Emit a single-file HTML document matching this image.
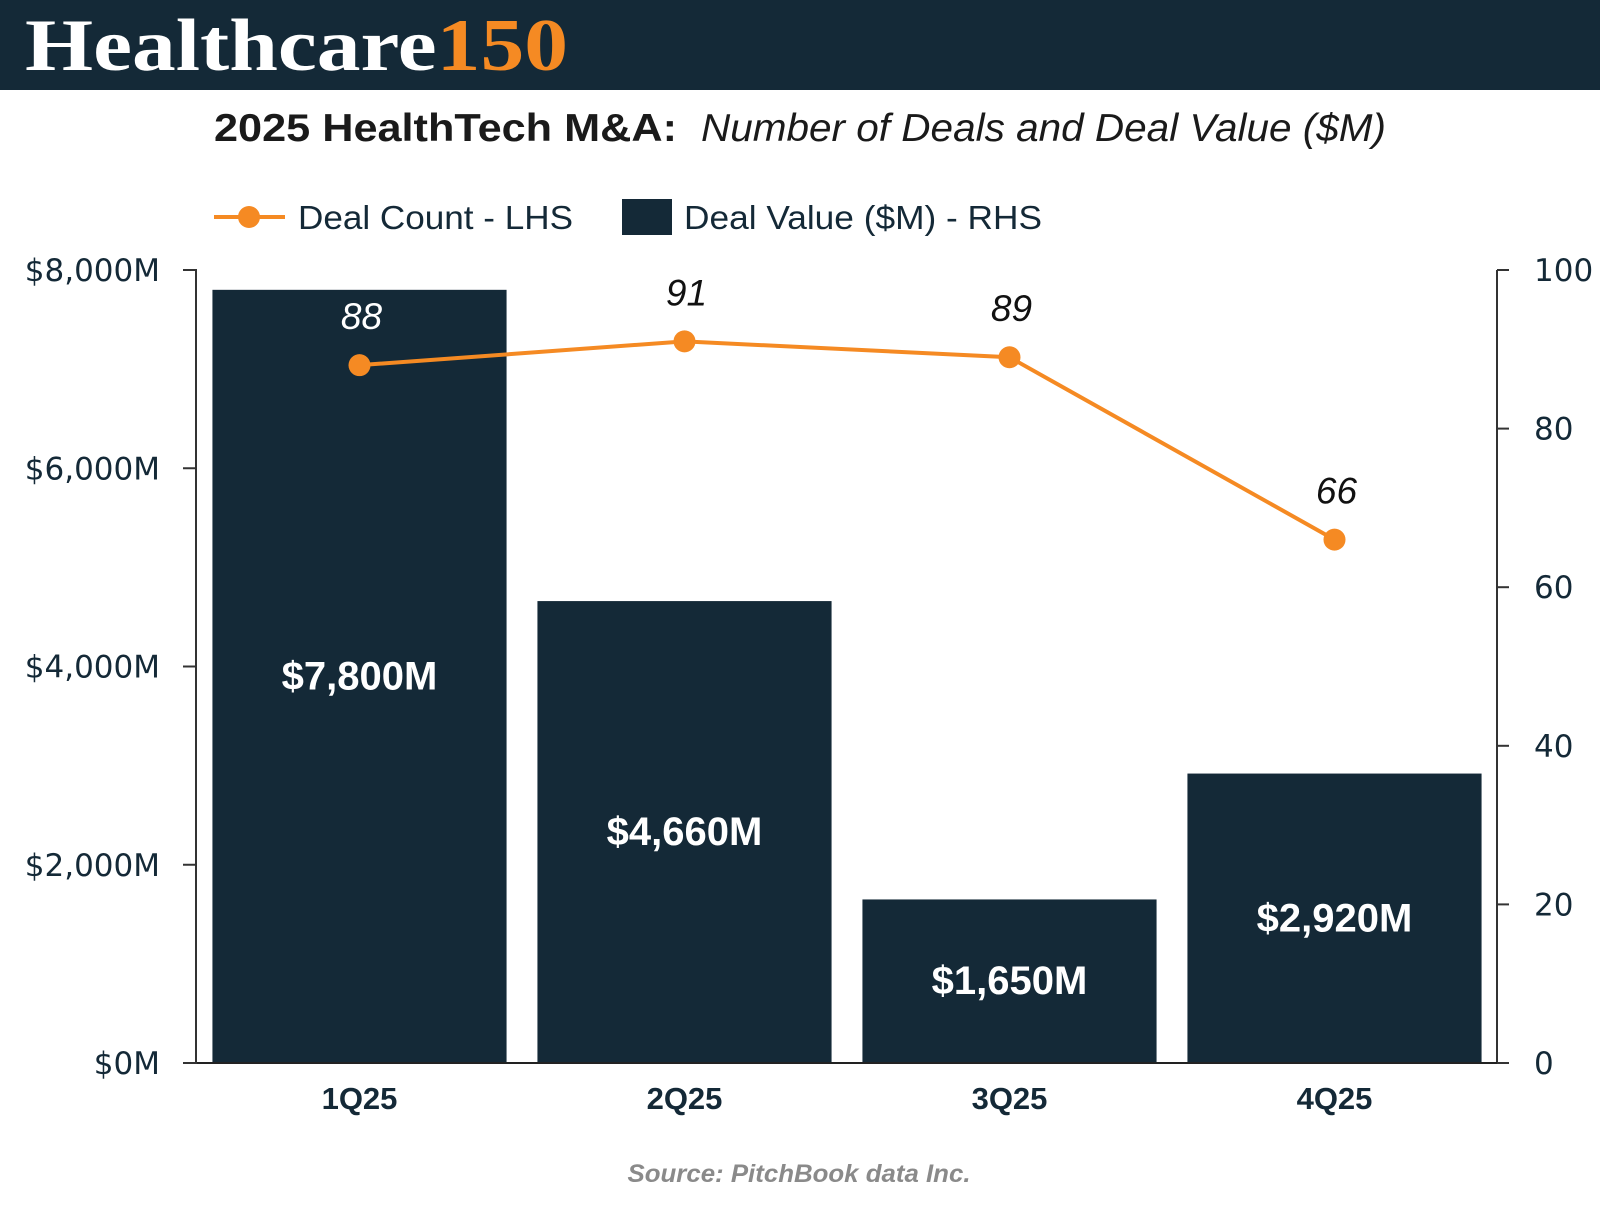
<!DOCTYPE html>
<html><head><meta charset="utf-8"><style>
body{margin:0;width:1600px;height:1200px;background:#fff;overflow:hidden;font-family:"Liberation Sans",sans-serif}
</style></head><body>
<svg width="1600" height="1200" xmlns="http://www.w3.org/2000/svg">
<rect x="0" y="0" width="1600" height="90" fill="#142937"/>
<text x="25" y="70" font-family="Liberation Serif,serif" font-weight="bold" font-size="74" fill="#fff" textLength="543" lengthAdjust="spacingAndGlyphs">Healthcare<tspan fill="#f58a23">150</tspan></text>
<text x="214" y="141" font-size="39" font-weight="bold" fill="#1a1a1a" textLength="463" lengthAdjust="spacingAndGlyphs">2025 HealthTech M&amp;A:</text>
<text x="701" y="141" font-size="39" font-style="italic" fill="#1a1a1a" textLength="685" lengthAdjust="spacingAndGlyphs">Number of Deals and Deal Value ($M)</text>
<g>
<line x1="214" y1="217" x2="285" y2="217" stroke="#f58a23" stroke-width="4"/><circle cx="249" cy="217" r="11" fill="#f58a23"/>
<text x="298" y="229" font-size="33" fill="#142937" textLength="275" lengthAdjust="spacingAndGlyphs">Deal Count - LHS</text>
<rect x="622" y="199" width="50" height="36" fill="#142937"/>
<text x="684" y="229" font-size="33" fill="#142937" textLength="358" lengthAdjust="spacingAndGlyphs">Deal Value ($M) - RHS</text>
</g>
<g id="plot"></g>
<text x="799" y="1182" text-anchor="middle" font-size="25" font-weight="bold" font-style="italic" fill="#8a8a8a" textLength="343" lengthAdjust="spacingAndGlyphs">Source: PitchBook data Inc.</text>
</svg>
<script>
const categories=["1Q25","2Q25","3Q25","4Q25"];
const dealValues=[7800,4660,1650,2920];
const dealCounts=[88,91,89,66];
const leftTicks=[0,2000,4000,6000,8000];
const rightTicks=[0,20,40,60,80,100];
const X0=197,X1=1497,Y0=1063,Y1=270;
const band=(X1-X0)/categories.length;
const yV=v=>Y0-v/8000*(Y0-Y1);
const yC=v=>Y0-v/100*(Y0-Y1);
const xC=i=>X0+band*(i+0.5);
const g=document.getElementById('plot');
const NS="http://www.w3.org/2000/svg";
function mk(t,a,txt){const e=document.createElementNS(NS,t);for(const k in a)e.setAttribute(k,a[k]);if(txt!=null)e.textContent=txt;g.appendChild(e);return e;}
dealValues.forEach((v,i)=>{
 const bw=band*0.905;
 const b=mk('rect',{x:xC(i)-bw/2,y:yV(v),width:bw,height:Y0-yV(v),fill:'#142937'});
 
 
 const t=mk('text',{x:xC(i),y:(yV(v)+Y0)/2+13,'text-anchor':'middle','font-size':40,'font-weight':'bold',fill:'#fff'},'$'+v.toLocaleString('en-US')+'M');
 
 
});
const ax1=mk('line',{x1:X0-1,y1:Y1,x2:X0-1,y2:Y0,stroke:'#333','stroke-width':2});


const ax2=mk('line',{x1:X1,y1:Y1,x2:X1,y2:Y0,stroke:'#333','stroke-width':2});


const base=mk('line',{x1:X0-14,y1:Y0,x2:X1+12,y2:Y0,stroke:'#222','stroke-width':2});


leftTicks.forEach(v=>{
 mk('line',{x1:X0-14,y1:yV(v),x2:X0,y2:yV(v),stroke:'#333','stroke-width':2});
 const t=mk('text',{x:160,y:yV(v)+11,'text-anchor':'end','font-size':31,'font-family':'DejaVu Sans, sans-serif',fill:'#142937'},'$'+v.toLocaleString('en-US')+'M');
 
 
});
rightTicks.forEach(v=>{
 mk('line',{x1:X1,y1:yC(v),x2:X1+12,y2:yC(v),stroke:'#333','stroke-width':2});
 const t=mk('text',{x:1534,y:yC(v)+11,'font-size':31,'font-family':'DejaVu Sans, sans-serif',fill:'#142937'},String(v));
 
 
});
categories.forEach((c,i)=>{
 const t=mk('text',{x:xC(i),y:1109,'text-anchor':'middle','font-size':31,'font-weight':'bold',fill:'#142937'},c);
 
 
});
const pl=mk('polyline',{points:dealCounts.map((v,i)=>xC(i)+','+yC(v)).join(' '),fill:'none',stroke:'#f58a23','stroke-width':4});


dealCounts.forEach((v,i)=>{
 const c=mk('circle',{cx:xC(i),cy:yC(v),r:11,fill:'#f58a23'});
 
 
 const inside=yC(v)-36>yV(dealValues[i]);
 const t=mk('text',{x:xC(i)+2,y:yC(v)-36,'text-anchor':'middle','font-size':37,'font-style':'italic',fill:inside?'#fff':'#111'},String(v));
 
 
});
</script>
</body></html>
